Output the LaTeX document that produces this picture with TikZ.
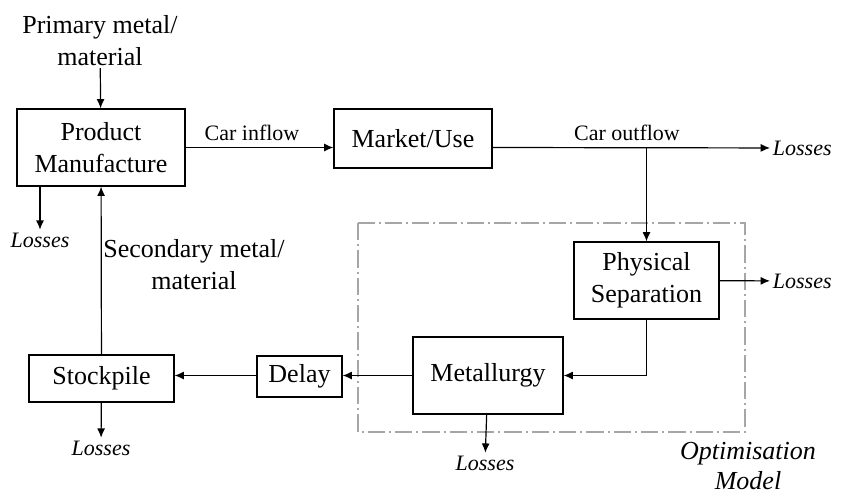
\documentclass[tikz,border=0pt]{standalone}
\usepackage{fontspec}
\setmainfont{Liberation Serif}
\usepackage{tikz}
\usetikzlibrary{arrows.meta}
\tikzstyle{Box}=[rectangle, draw=black, line width=0.9pt, align=center, font=\fontsize{19.5}{24}\selectfont]
\tikzstyle{Label}=[align=center, font=\fontsize{16.5}{20}\selectfont]
\tikzstyle{Loss}=[inner sep=2pt, font=\fontsize{16.5}{20}\selectfont\itshape]
\tikzstyle{Flow}=[-{Latex[length=7pt,width=6pt]}, line width=0.9pt]

\begin{document}
\begin{tikzpicture}[x=0.75pt, y=-0.75pt]
    \useasboundingbox (0,0) rectangle (842,496);
    % model frame
    \draw[gray!70, line width=0.9pt, dash pattern=on 13pt off 3pt on 1.5pt off 3pt] (358,223) rectangle (745,432);
    \path
    (101,147.5) node[Box, minimum width=126pt, minimum height=57.75pt] (manu) {Product\\Manufacture}
    (413,138.5) node[Box, minimum width=118.5pt, minimum height=44.25pt] (market) {Market/Use}
    (646.5,280.5) node[Box, minimum width=108.75pt, minimum height=57.75pt] (phys) {Physical\\Separation}
    (488,375.5) node[Box, minimum width=112.5pt, minimum height=57.75pt] (metal) {Metallurgy}
    (299.5,376.5) node[Box, minimum width=63.75pt, minimum height=30.75pt, inner sep=1pt] (delay) {Delay}
    (101.5,378.5) node[Box, minimum width=108.75pt, minimum height=35.25pt] (stock) {Stockpile};
    \path (100,41) node[Box, draw=none, inner sep=1pt] (prim) {Primary metal/\\material}
    (194,265) node[Box, draw=none] (second) {Secondary metal/\\material}
    (748,466) node[Box, draw=none, inner sep=1pt, font=\fontsize{19.5}{22.5}\selectfont\itshape] (optim) {Optimisation\\Model};
    \path (252,133) node[Label] (inflow) {Car inflow}
    (627,133) node[Label] (outflow) {Car outflow};
    \path (40,240) node[Loss] (lmanu) {Losses}
    (770,148) node[Loss, anchor=west] (lmarket) {Losses}
    (770,281) node[Loss, anchor=west] (lphys) {Losses}
    (485,463) node[Loss] (lmetal) {Losses}
    (101,448) node[Loss] (lstock) {Losses};

    \draw[Flow] (prim) -- (manu);
    \draw[Flow] (manu.east) -- (manu.east -| market.west);
    \draw[Flow] (manu.east -| market.east) -- (lmarket);
    \draw[Flow] (manu.east -| phys.north) -- (phys.north);
    \draw[Flow] (phys) -- (lphys);
    \draw[Flow] (phys.south) |- (metal.east);
    \draw[Flow] (metal.west) -- (metal.west -| delay.east);
    \draw[Flow] (metal.west -| delay.west) -- (metal.west -| stock.east);
    \draw[Flow] (metal) -- (lmetal);
    \draw[Flow] (stock) -- (lstock);
    \draw[Flow] (stock) -- (manu);
    \draw[Flow] (manu.south -| lmanu) -- (lmanu);
\end{tikzpicture}
\end{document}
